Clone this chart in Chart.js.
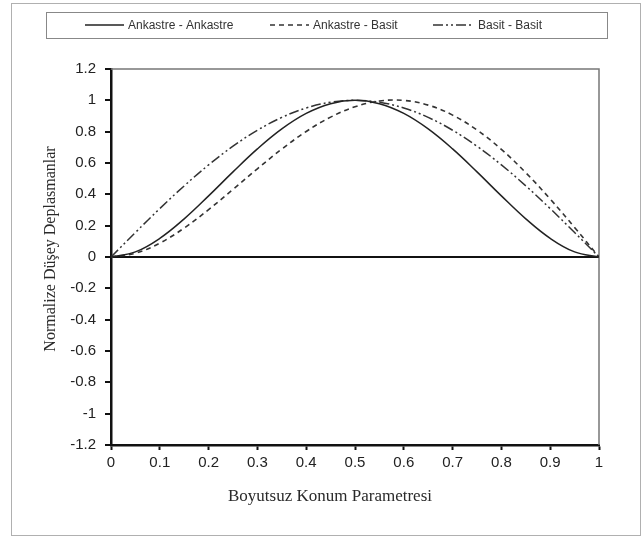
<!DOCTYPE html>
<html>
<head>
<meta charset="utf-8">
<script src="https://cdn.jsdelivr.net/npm/chart.js@4"></script>
<style>
  body { margin: 0; background: #fff; }
  canvas { display: block; }
</style>
</head>
<body>
<canvas id="grafik" width="644" height="537"></canvas>
<script>
// data
const konum = [0, 0.05, 0.1, 0.15, 0.2, 0.25, 0.3, 0.35, 0.4, 0.45, 0.5,
  0.55, 0.6, 0.65, 0.7, 0.75, 0.8, 0.85, 0.9, 0.95, 1];
const ankastreAnkastre = [0, 0.0325, 0.119, 0.2435, 0.39, 0.5434, 0.69, 0.8177, 0.9166, 0.9786, 1,
  0.9786, 0.9166, 0.8177, 0.69, 0.5434, 0.39, 0.2435, 0.119, 0.0325, 0];
const ankastreBasit = [0, 0.0239, 0.0889, 0.1851, 0.3025, 0.4316, 0.5632, 0.6889, 0.801, 0.8928, 0.959,
  0.9954, 0.9993, 0.9695, 0.9058, 0.8104, 0.6867, 0.538, 0.3699, 0.1883, 0];
const basitBasit = [0, 0.1564, 0.309, 0.454, 0.5878, 0.7071, 0.809, 0.891, 0.9511, 0.9877, 1,
  0.9877, 0.9511, 0.891, 0.809, 0.7071, 0.5878, 0.454, 0.309, 0.1564, 0];
const seriAdlari = ["Ankastre - Ankastre", "Ankastre - Basit", "Basit - Basit"];
const xEtiket = ["0", "0.1", "0.2", "0.3", "0.4", "0.5", "0.6", "0.7", "0.8", "0.9", "1"];
const yEtiket = ["-1.2", "-1", "-0.8", "-0.6", "-0.4", "-0.2", "0", "0.2", "0.4", "0.6", "0.8", "1", "1.2"];
const xBaslik = "Boyutsuz Konum Parametresi";
const yBaslik = "Normalize Düşey Deplasmanlar";

const noktalar = (ys) => konum.map((x, i) => ({ x: x, y: ys[i] }));

// cerceve, grafik alani kenari, eksen basliklari ve lejant
const cercevePlugin = {
  id: "cerceve",
  beforeDraw(chart) {
    const c = chart.ctx;
    c.save();
    c.fillStyle = "#fff";
    c.fillRect(0, 0, chart.width, chart.height);
    c.strokeStyle = "#b0b0b0";
    c.lineWidth = 1;
    c.strokeRect(11.5, 3.5, 629, 532);
    c.restore();
  },
  beforeDatasetsDraw(chart) {
    const a = chart.chartArea;
    const c = chart.ctx;
    c.save();
    c.strokeStyle = "#777";
    c.lineWidth = 1.5;
    c.beginPath();
    c.moveTo(a.left, a.top);
    c.lineTo(a.right, a.top);
    c.lineTo(a.right, a.bottom);
    c.stroke();
    c.restore();
  },
  afterDraw(chart) {
    const c = chart.ctx;
    c.save();
    // eksen basliklari
    c.fillStyle = "#2a2a2a";
    c.textAlign = "center";
    c.textBaseline = "middle";
    c.font = "17px 'Liberation Serif', 'Times New Roman', serif";
    c.fillText(xBaslik, 330, 497);
    c.save();
    c.translate(51, 249);
    c.rotate(-Math.PI / 2);
    c.font = "16px 'Liberation Serif', 'Times New Roman', serif";
    c.fillText(yBaslik, 0, 0);
    c.restore();
    // lejant
    c.strokeStyle = "#888";
    c.lineWidth = 1;
    c.strokeRect(46.5, 12.5, 561, 26);
    const ornekX = [85, 270, 433];
    const yaziX = [128, 313, 478];
    c.font = "12px 'Liberation Sans', Arial, sans-serif";
    c.textAlign = "left";
    chart.data.datasets.forEach((ds, i) => {
      c.strokeStyle = ds.borderColor;
      c.lineWidth = 1.5;
      c.setLineDash(ds.borderDash || []);
      c.beginPath();
      c.moveTo(ornekX[i], 25);
      c.lineTo(ornekX[i] + 39, 25);
      c.stroke();
      c.setLineDash([]);
      c.fillStyle = "#333";
      c.fillText(ds.label, yaziX[i], 25.5);
    });
    c.restore();
  },
};

new Chart(document.getElementById("grafik"), {
  type: "line",
  data: {
    datasets: [
      {
        label: seriAdlari[0],
        data: noktalar(ankastreAnkastre),
        borderColor: "#222",
        borderWidth: 1.5,
      },
      {
        label: seriAdlari[1],
        data: noktalar(ankastreBasit),
        borderColor: "#333",
        borderWidth: 1.6,
        borderDash: [5, 4],
      },
      {
        label: seriAdlari[2],
        data: noktalar(basitBasit),
        borderColor: "#333",
        borderWidth: 1.5,
        borderDash: [10, 3, 2, 3, 2, 3],
      },
    ],
  },
  options: {
    responsive: false,
    animation: false,
    elements: { point: { radius: 0 }, line: { tension: 0.4 } },
    layout: { padding: { top: 69, right: 45, left: 0, bottom: 0 } },
    plugins: { legend: { display: false }, tooltip: { enabled: false } },
    scales: {
      x: {
        type: "linear",
        min: 0,
        max: 1,
        afterFit: (s) => { s.height = 92; },
        afterBuildTicks: (s) => { s.ticks = xEtiket.map((t, i) => ({ value: i / 10 })); },
        ticks: {
          callback: (v, i) => xEtiket[i],
          autoSkip: false,
          maxRotation: 0,
          padding: 4,
          color: "#222",
          font: { family: "'Liberation Sans', Arial, sans-serif", size: 15 },
        },
        grid: { drawOnChartArea: false, tickLength: 5, tickColor: "#111", tickWidth: 2 },
        border: { display: true, color: "#111", width: 2.5 },
        title: { display: false },
      },
      y: {
        min: -1.2,
        max: 1.2,
        afterFit: (s) => { s.width = 111; },
        afterBuildTicks: (s) => { s.ticks = yEtiket.map((t, i) => ({ value: -1.2 + i * 0.2 })); },
        ticks: {
          callback: (v, i) => yEtiket[i],
          autoSkip: false,
          padding: 9,
          color: "#222",
          font: { family: "'Liberation Sans', Arial, sans-serif", size: 15 },
        },
        grid: {
          drawOnChartArea: true,
          tickLength: 6,
          tickColor: "#111",
          tickWidth: 2,
          color: (ctx) => (ctx.tick && Math.abs(ctx.tick.value) < 1e-6 ? "#111" : "rgba(0,0,0,0)"),
          lineWidth: (ctx) => (ctx.tick && Math.abs(ctx.tick.value) < 1e-6 ? 2 : 0),
        },
        border: { display: true, color: "#111", width: 2.5 },
        title: { display: false },
      },
    },
  },
  plugins: [cercevePlugin],
});
</script>
</body>
</html>
